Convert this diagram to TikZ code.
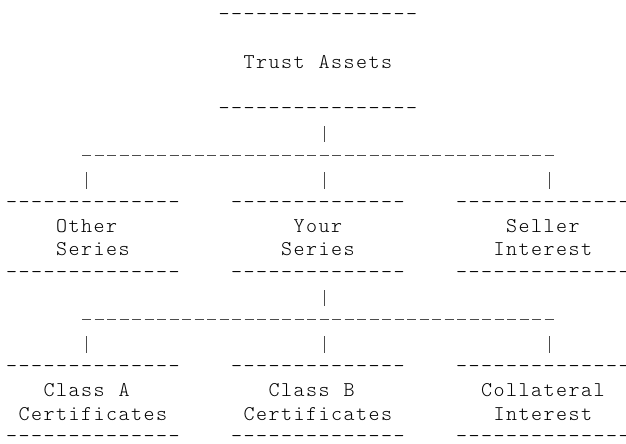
\documentclass[tikz,border=0pt]{standalone}
\usepackage{fontspec}
\newfontfamily\asciifont{lmmonolt10-regular.otf}
\usetikzlibrary{calc}

\ExplSyntaxOn
\cs_new:Npn \asciirow #1 { \tl_map_inline:nn {#1} { \makebox[12.5pt]{##1} } }
\cs_new:Npn \hyphrow #1 { \raisebox{0.75pt}{ \prg_replicate:nn {#1} { \makebox[12.5pt]{-} } } }
\ExplSyntaxOff

\newcommand\rowstrut{\rule{0pt}{16pt}}
\def\pipeshift{6.25}

\tikzset{
  box/.style={font=\asciifont\fontsize{21}{23.45}\selectfont, align=center, inner sep=0pt, anchor=north},
  hyph/.style={line width=1.05pt, black!70, dash pattern=on 9pt off 3.5pt},
  stem/.style={line width=1.1pt, black!70},
  rise/.style={stem, shorten <=10.8pt, shorten >=13.5pt},
  drop/.style={stem, shorten <=16.8pt, shorten >=3.5pt}
}

\begin{document}
\begin{tikzpicture}[x=1pt, y=1pt]
  \useasboundingbox (0,0) rectangle (626,-444);
  \fill [white] (0,0) rectangle (626,-444);

  % top of the tree
  \node [box] (trust) at (317.9,-5.2) {\rowstrut\hyphrow{16}\\\mbox{}\\\asciirow{Trust~Assets}\\\mbox{}\\\hyphrow{16}};

  % series level
  \node [box] (other) at (92.9,-192.8) {\rowstrut\hyphrow{14}\\\asciirow{Other~}\\\asciirow{Series}\\\hyphrow{14}};
  \node [box] (your) at (317.9,-192.8) {\rowstrut\hyphrow{14}\\\asciirow{Your}\\\asciirow{Series}\\\hyphrow{14}};
  \node [box] (seller) at (542.9,-192.8) {\rowstrut\hyphrow{14}\\\asciirow{Seller}\\\asciirow{Interest}\\\hyphrow{14}};

  % certificate level
  \node [box] (classa) at (92.9,-356.95) {\rowstrut\hyphrow{14}\\\asciirow{Class~A~}\\\asciirow{Certificates}\\\hyphrow{14}};
  \node [box] (classb) at (317.9,-356.95) {\rowstrut\hyphrow{14}\\\asciirow{Class~B~}\\\asciirow{Certificates}\\\hyphrow{14}};
  \node [box] (collateral) at (542.9,-356.95) {\rowstrut\hyphrow{14}\\\asciirow{Collateral}\\\asciirow{Interest}\\\hyphrow{14}};

  \coordinate (fork1) at (317.9,-155.6);
  \coordinate (fork2) at (317.9,-319.6);

  % trust assets -> series
  \draw [rise] ($(trust.south)+(\pipeshift,0)$) -- ($(trust.south |- fork1)+(\pipeshift,0)$);
  \draw [hyph] ($(other.north |- fork1)+(-10.75,0)$) -- ($(seller.north |- fork1)+(10.75,0)$);
  \foreach \n/\s in {other/-\pipeshift, your/\pipeshift, seller/\pipeshift}
    \draw [drop] ($(\n.north |- fork1)+(\s,0)$) -- ($(\n.north)+(\s,0)$);

  % your series -> certificates
  \draw [rise] ($(your.south)+(\pipeshift,0)$) -- ($(your.south |- fork2)+(\pipeshift,0)$);
  \draw [hyph] ($(classa.north |- fork2)+(-10.75,0)$) -- ($(collateral.north |- fork2)+(10.75,0)$);
  \foreach \n/\s in {classa/-\pipeshift, classb/\pipeshift, collateral/\pipeshift}
    \draw [drop] ($(\n.north |- fork2)+(\s,0)$) -- ($(\n.north)+(\s,0)$);

\end{tikzpicture}
\end{document}
